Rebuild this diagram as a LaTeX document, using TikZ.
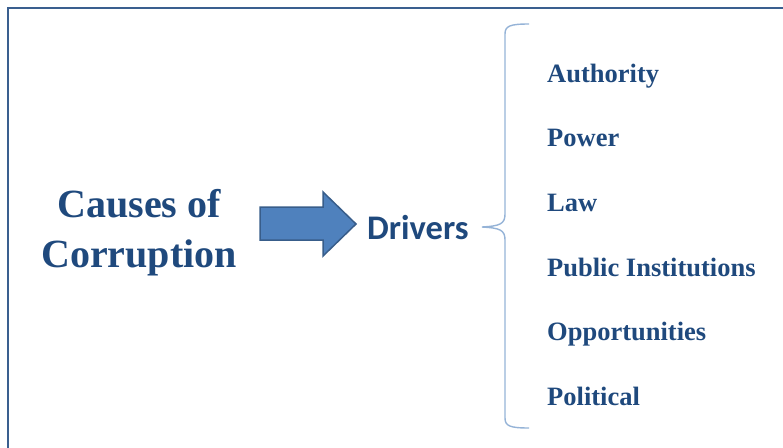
\documentclass[tikz,border=0pt]{standalone}
\usepackage{fontspec}
\setmainfont{Liberation Serif}
\newfontfamily\driversfont{Carlito}
\definecolor{textblue}{HTML}{1F497D}
\definecolor{arrowfill}{HTML}{4F81BD}
\definecolor{arrowline}{HTML}{385D8A}
\definecolor{braceblue}{HTML}{95B3D7}
\definecolor{frameblue}{HTML}{3A5F8F}
\tikzset{
  bigtitle/.style={text=textblue,inner sep=0pt,anchor=base,font=\fontsize{40}{48}\selectfont\bfseries},
  driver/.style={text=textblue,inner sep=0pt,anchor=base west,font=\fontsize{26.5}{32}\selectfont\bfseries},
  brace/.style={draw=braceblue,line width=1.4pt}
}
\begin{document}
\begin{tikzpicture}[x=1pt,y=-1pt,line join=miter]
	\useasboundingbox (0,0) rectangle (783,447);
	%frame
	\draw[frameblue,line width=2.4pt] (8,8) rectangle (800,460);

	%title
	\node[bigtitle] (causes) at (139,217) {Causes of};
	\node[bigtitle] (corruption) at (139,267) {Corruption};

	%arrow
	\filldraw[fill=arrowfill,draw=arrowline,line width=1.5pt]
	  (260,207) -- (323,207) -- (323,192) -- (356,224) -- (323,256)
	  -- (323,240) -- (260,240) -- cycle; %big arrow

	%drivers
	\node[text=textblue,inner sep=0pt,anchor=base west,font=\driversfont\fontsize{34.5}{40}\selectfont\bfseries]
	  (drivers) at (367,239) {Drivers};

	%brace
	\coordinate (btop) at (529,24);
	\coordinate (btip) at (482,227);
	\coordinate (bbot) at (529,428);
	\draw[brace] (btop) .. controls (510,24) and (505,26) .. (505,34)
	  -- (505,214) .. controls (505,224) and (500,226) .. (btip)
	  .. controls (500,228) and (505,230) .. (505,240)
	  -- (505,418) .. controls (505,426) and (510,428) .. (bbot);

	%labels
	\node[driver] (authority) at (547,82) {Authority};
	\node[driver] (power) at (547,146) {Power};
	\node[driver] (law) at (547,211) {Law};
	\node[driver] (public) at (547,276) {Public Institutions};
	\node[driver] (opportunities) at (547,340) {Opportunities};
	\node[driver] (political) at (547,405) {Political};
\end{tikzpicture}
\end{document}
